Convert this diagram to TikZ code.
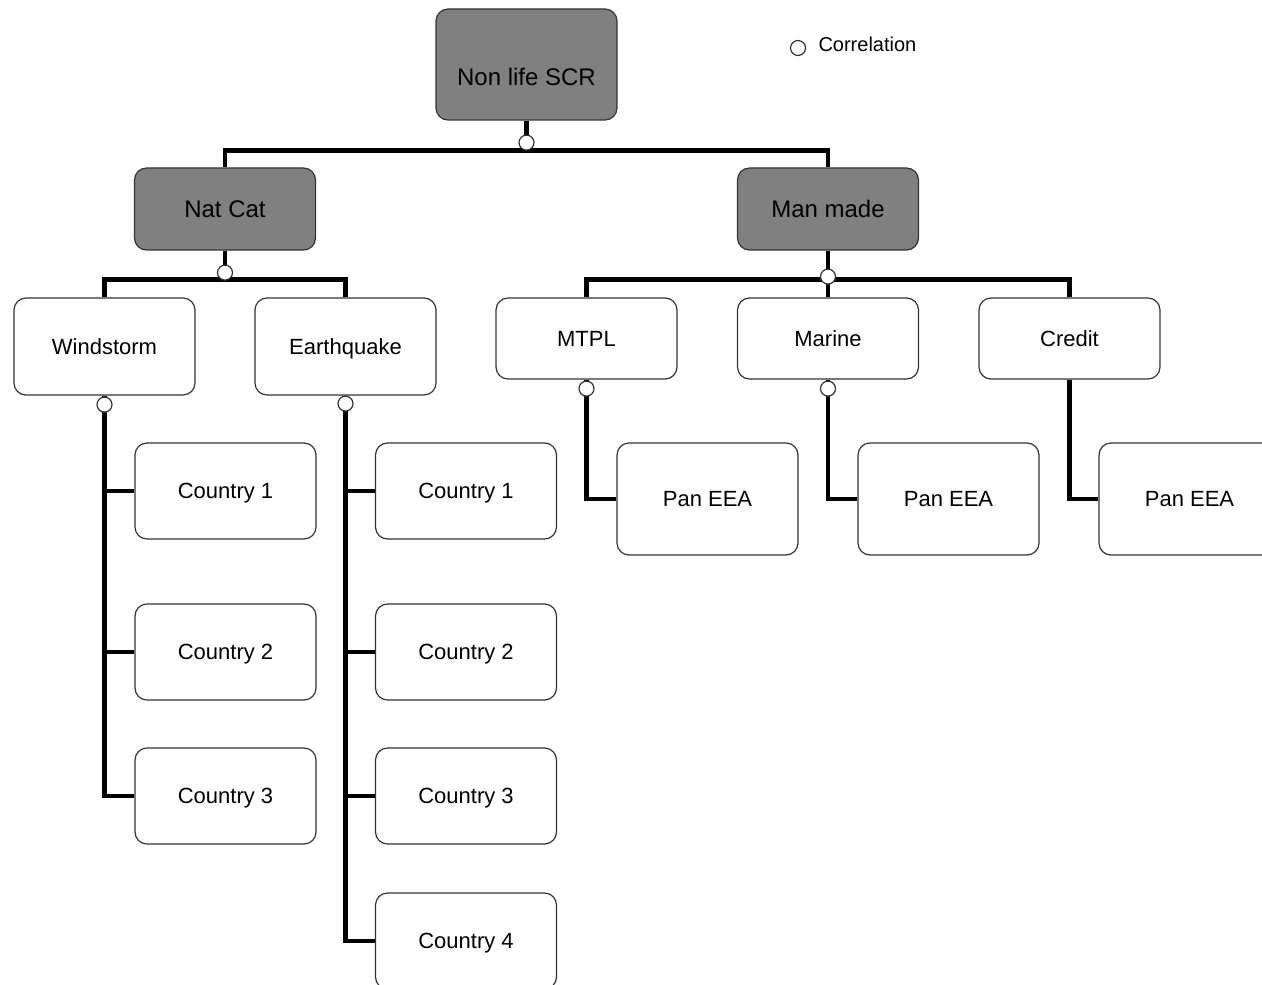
\documentclass[tikz,border=0pt]{standalone}
\usepackage{fontspec}
\setmainfont{Liberation Sans}
\usetikzlibrary{positioning,calc}

\begin{document}
\begin{tikzpicture}[x=0.5pt,y=-0.5pt,
		box/.style={draw=black!80,line width=0.6pt,rounded corners=6pt,fill=white,minimum width=90.5pt,inner sep=0pt,text height=7.9pt,text depth=0pt,font=\fontsize{11}{13}\selectfont},
		topbox/.style={box,fill=black!50,text height=8.6pt,font=\fontsize{12}{14}\selectfont,minimum height=41pt},
		link/.style={line width=2.2pt},
		corr/.style={circle,draw=black!80,line width=0.6pt,fill=white,minimum size=7.5pt,inner sep=0pt}]
			\useasboundingbox (0,0) rectangle (1262,984);
			\clip (0,0) rectangle (1262,984);
			\node[topbox,minimum height=0pt,text height=38.5pt,text depth=17pt] (scr) at (526.5,64.5) {Non life SCR};
			\node[topbox] (natcat) at (225,209) {Nat Cat};
			\node[topbox] (manmade) at (828,209) {Man made};
			\node[box,minimum height=48.5pt] (wind) at (104.5,346.5) {Windstorm};
			\node[box,minimum height=48.5pt] (quake) at (345.5,346.5) {Earthquake};
			\node[box,minimum height=40.5pt] (mtpl) at (586.5,338.5) {MTPL};
			\node[box,minimum height=40.5pt] (marine) at (828,338.5) {Marine};
			\node[box,minimum height=40.5pt] (credit) at (1069.5,338.5) {Credit};
			\foreach \y/\n in {491/1,652/2,796/3}
				\node[box,minimum height=48pt] (wind\n) at (225.5,\y) {Country \n};
			\foreach \y/\n in {491/1,652/2,796/3,941/4}
				\node[box,minimum height=48pt] (quake\n) at (466,\y) {Country \n};
			\node[box,minimum height=56pt] (mtpl1) at (707.5,499) {Pan EEA};
			\node[box,minimum height=56pt] (marine1) at (948.5,499) {Pan EEA};
			\node[box,minimum height=56pt] (credit1) at (1189.5,499) {Pan EEA};
			\draw[link] (scr.south) -- ++(0,30) coordinate (scrbus) -| (natcat.north);
			\draw[link] (scrbus) -| (manmade.north);
			\draw[link] (natcat.south) -- ++(0,29) coordinate (natbus) -| (wind.north);
			\draw[link] (natbus) -| (quake.north);
			\draw[link] (manmade.south) -- ++(0,29) coordinate (manbus) -| (mtpl.north);
			\draw[link] (manbus) -| (credit.north);
			\draw[link] (manbus) -- (marine.north);
			\draw[link] (wind.south) |- (wind3.west);
			\foreach \n in {1,2}
				\draw[link] (wind.south |- wind\n.west) -- (wind\n.west);
			\draw[link] (quake.south) |- (quake4.west);
			\foreach \n in {1,2,3}
				\draw[link] (quake.south |- quake\n.west) -- (quake\n.west);
			\draw[link] (mtpl.south) |- (mtpl1.west);
			\draw[link] (marine.south) |- (marine1.west);
			\draw[link] (credit.south) |- (credit1.west);
			\node[corr] (scrc) at ($(scrbus)+(0,-8)$) {};
			\node[corr] (natc) at ($(natbus)+(0,-7)$) {};
			\node[corr] (manc) at ($(manbus)+(0,-3)$) {};
			\node[corr] (windc) at ($(wind.south)+(0,9)$) {};
			\node[corr] (quakec) at ($(quake.south)+(0,8)$) {};
			\node[corr] (mtplc) at ($(mtpl.south)+(0,9)$) {};
			\node[corr] (marinec) at ($(marine.south)+(0,9)$) {};
			\node[corr] (legc) at (798,48) {};
			\node[right=6pt of legc,yshift=2pt,inner sep=0pt,font=\fontsize{10}{12}\selectfont] (legt) {Correlation};
\end{tikzpicture}
\end{document}
